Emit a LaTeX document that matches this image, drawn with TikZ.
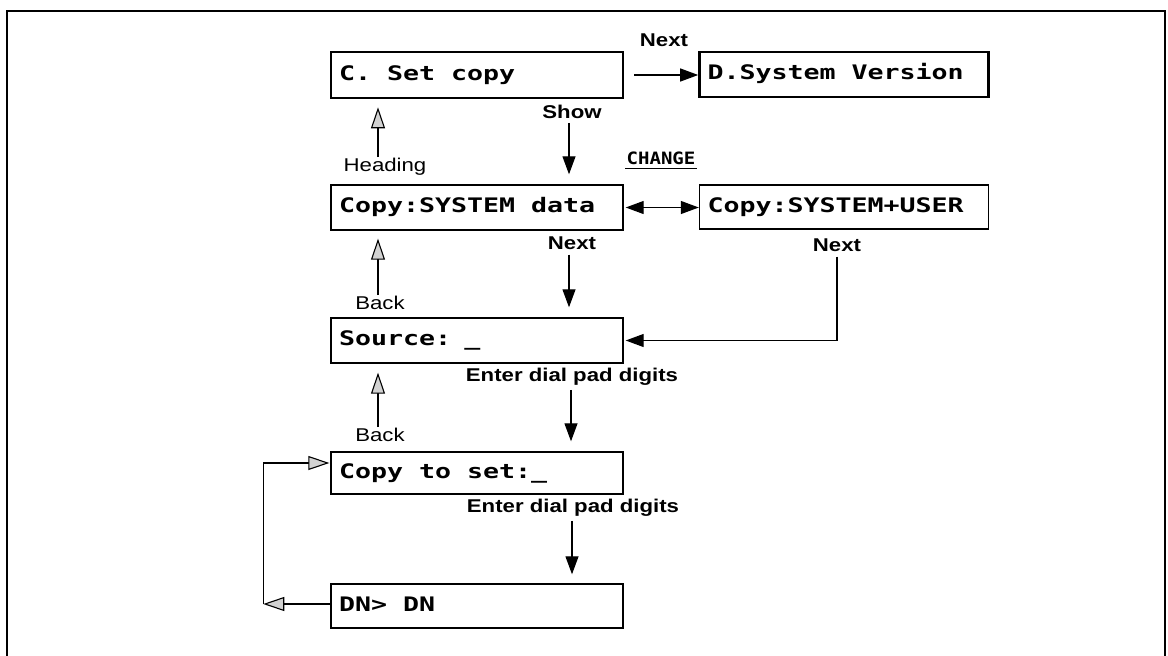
\documentclass[tikz,border=0pt]{standalone}
\usepackage{fontspec}
\usepackage{graphicx}
\usetikzlibrary{arrows.meta}
\newfontfamily\lcdfont{DejaVu Sans Mono}
\newfontfamily\labfont[FakeStretch=1.2]{Liberation Sans}
\newcommand\lcdtext[1]{\scalebox{1.33}[1]{\spaceskip=0.602em plus 0pt minus 0pt\relax #1}}
\begin{document}
\begin{tikzpicture}[x=1pt,y=-1pt,
  lcdbox/.style={draw, line width=1.4pt, inner xsep=8pt, inner ysep=0pt, align=left,
    font=\lcdfont\bfseries\fontsize{20}{22}\selectfont, text height=14pt, text depth=4pt},
  thickbox/.style={line width=2.6pt},
  colw/.style={text width=276pt},
  rcolw/.style={text width=273pt},
  lab/.style={inner sep=2pt, font=\labfont\fontsize{18.5}{20}\selectfont},
  blab/.style={inner sep=2pt, font=\labfont\bfseries\fontsize{18.5}{20}\selectfont},
  solidarrow/.style={line width=1.2pt, -{Triangle[length=18pt,width=13pt]}},
  dblarrow/.style={line width=1.2pt, {Triangle[length=18pt,width=13pt]}-{Triangle[length=18pt,width=13pt]}},
  hollowarrow/.style={line width=1.1pt, -{Triangle[length=21pt,width=14pt,fill=gray!35]}}
]
\useasboundingbox (0,0) rectangle (1168,656);
% frame
\draw[line width=2pt] (7,656) -- (7,11) -- (1165,11) -- (1165,656);

% boxes
\node[lcdbox, thickbox, colw, minimum height=46pt] (c) at (477,75) {\lcdtext{C. Set copy}};
\node[lcdbox, thickbox, rcolw, minimum height=45pt] (d) at (844,74.5) {\lcdtext{D.System Version}};
\node[lcdbox, colw, minimum height=45pt] (data) at (477,207.5) {\lcdtext{Copy:SYSTEM data}};
\node[lcdbox, rcolw, minimum height=44pt] (sysuser) at (844,207) {\lcdtext{Copy:SYSTEM+USER}};
\node[lcdbox, colw, minimum height=45pt] (source) at (477,340.5) {\lcdtext{Source: \_}};
\node[lcdbox, colw, minimum height=42pt] (copyto) at (477,473) {\lcdtext{Copy to set:\_}};
\node[lcdbox, colw, minimum height=44pt] (dn) at (477,606) {\lcdtext{DN> DN}};

% labels
\node[blab] (nexta) at (664,40) {Next};
\node[blab] (show) at (572,112) {Show};
\node[lab] (heading) at (385,167) {Heading};
\node[inner sep=1pt, font=\lcdfont\bfseries\fontsize{17}{19}\selectfont] (change) at (661,158) {\scalebox{1.12}[1]{CHANGE}};
\node[blab] (nextb) at (572,243) {Next};
\node[blab] (nextc) at (837,245) {Next};
\node[lab] (back1) at (380,303) {Back};
\node[blab] (enter1) at (572,377) {Enter dial pad digits};
\node[lab] (back2) at (380,435) {Back};
\node[blab] (enter2) at (573,508) {Enter dial pad digits};

% connectors
\draw[solidarrow] ([xshift=10pt]c.east) -- (c.east -| d.west);
\draw[solidarrow] ([xshift=-3pt,yshift=-2pt]show.south) -- ([xshift=-3pt,yshift=10pt]show.south |- data.north);
\draw[hollowarrow] ([xshift=-7pt,yshift=-1pt]heading.north) -- ([xshift=-7pt,yshift=-8pt]heading.north |- c.south);
\draw[dblarrow] ([xshift=2pt]data.east) -- (data.east -| sysuser.west);
\draw[line width=1.1pt] ([yshift=-3pt]change.south west) -- ([yshift=-3pt]change.south east);
\draw[solidarrow] ([xshift=-3pt,yshift=-3pt]nextb.south) -- ([xshift=-3pt,yshift=10pt]nextb.south |- source.north);
\draw[hollowarrow] ([xshift=-2pt,yshift=-1pt]back1.north) -- ([xshift=-2pt,yshift=-8pt]back1.north |- data.south);
\draw[solidarrow] ([yshift=-3pt]nextc.south) |- ([xshift=2pt]source.east);
\draw[solidarrow] ([xshift=-1pt,yshift=-2pt]enter1.south) -- ([xshift=-1pt,yshift=10pt]enter1.south |- copyto.north);
\draw[hollowarrow] ([xshift=-2pt,yshift=-1pt]back2.north) -- ([xshift=-2pt,yshift=-9pt]back2.north |- source.south);
\draw[solidarrow] ([xshift=-1pt,yshift=-2pt]enter2.south) -- ([xshift=-1pt,yshift=9pt]enter2.south |- dn.north);
\coordinate (loopc) at ([xshift=-67pt,yshift=2pt]dn.west);
\draw[hollowarrow] ([yshift=2pt]dn.west) -- (loopc);
\draw[hollowarrow] (loopc) |- ([xshift=-1pt,yshift=10pt]copyto.west);
\end{tikzpicture}
\end{document}
